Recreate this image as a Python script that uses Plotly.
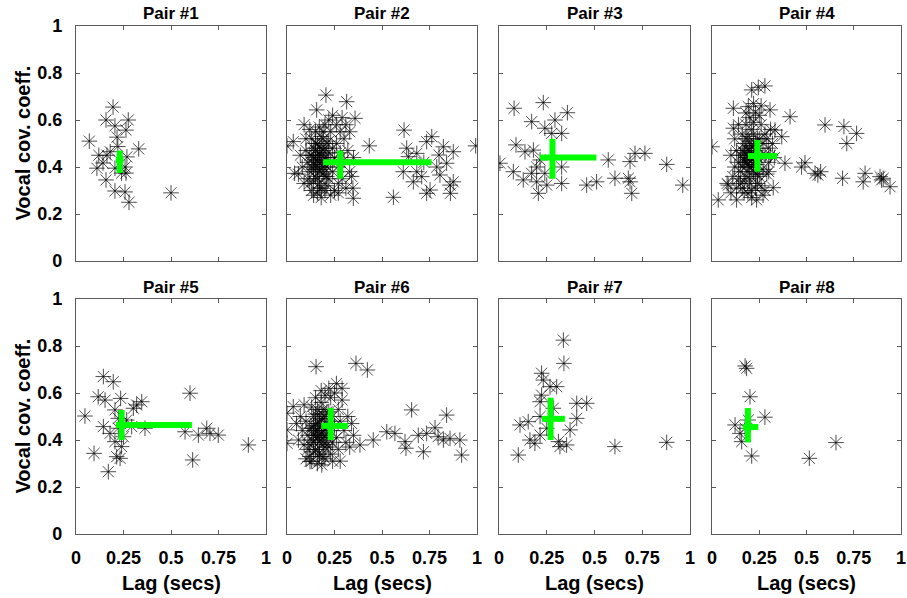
import plotly.graph_objects as go

# ---------------- data (lag in secs, vocal covariance coefficient) ----------------
lag_p1 = [0.07, 0.195, 0.158, 0.275, 0.205, 0.263, 0.216, 0.33, 0.12, 0.163, 0.268, 0.11, 0.142, 0.205,
          0.258, 0.263, 0.158, 0.205, 0.258, 0.279, 0.50, 0.18, 0.22, 0.24]
cov_p1 = [0.51, 0.655, 0.60, 0.60, 0.575, 0.557, 0.527, 0.477, 0.45, 0.45, 0.443, 0.395, 0.417, 0.395,
          0.40, 0.374, 0.345, 0.298, 0.294, 0.25, 0.29, 0.465, 0.487, 0.374]

lag_p2 = [0.12, 0.13, 0.14, 0.15, 0.15, 0.16, 0.16, 0.17, 0.17, 0.18, 0.18, 0.19, 0.19, 0.20, 0.20, 0.21, 0.21,
          0.22, 0.22, 0.23, 0.23, 0.24, 0.24, 0.25, 0.13, 0.14, 0.12, 0.11, 0.10, 0.11, 0.13, 0.16, 0.18, 0.19,
          0.17, 0.15, 0.20, 0.22, 0.14, 0.16, 0.18, 0.21, 0.15, 0.17, 0.19, 0.20, 0.12, 0.14, 0.18, 0.21,
          0.26, 0.27, 0.28, 0.28, 0.29, 0.30, 0.30, 0.31, 0.32, 0.33, 0.27, 0.25, 0.26, 0.29, 0.33, 0.24,
          0.08, 0.09, 0.07, 0.06, 0.10, 0.09, 0.12, 0.35, 0.34, 0.31, 0.23, 0.27,
          0.14, 0.15, 0.16, 0.17, 0.18, 0.19, 0.20, 0.16, 0.17, 0.18, 0.15, 0.19, 0.13, 0.14, 0.21, 0.22,
          0.17, 0.20,
          0.0, 0.033, 0.205, 0.314, 0.156, 0.358, 0.433, 0.349, 0.347, 0.04,
          0.56, 0.616, 0.762, 0.735, 0.875, 0.823, 0.80, 0.683, 0.639, 0.612, 0.683, 0.665, 0.735, 0.753,
          0.805, 0.84, 0.858, 0.875, 0.86, 0.709, 0.788, 0.993, 0.72, 0.63]
cov_p2 = [0.45, 0.40, 0.48, 0.36, 0.43, 0.50, 0.39, 0.46, 0.33, 0.42, 0.53, 0.37, 0.47, 0.44, 0.30, 0.50, 0.40,
          0.35, 0.46, 0.42, 0.55, 0.38, 0.48, 0.44, 0.52, 0.34, 0.38, 0.42, 0.47, 0.35, 0.30, 0.29, 0.31, 0.55,
          0.57, 0.55, 0.58, 0.60, 0.44, 0.45, 0.39, 0.36, 0.41, 0.49, 0.43, 0.48, 0.33, 0.28, 0.27, 0.32,
          0.50, 0.40, 0.46, 0.55, 0.35, 0.43, 0.52, 0.58, 0.47, 0.38, 0.33, 0.30, 0.58, 0.61, 0.55, 0.62,
          0.40, 0.33, 0.45, 0.37, 0.52, 0.58, 0.56, 0.44, 0.36, 0.31, 0.28, 0.29,
          0.39, 0.47, 0.35, 0.42, 0.48, 0.40, 0.36, 0.43, 0.38, 0.45, 0.50, 0.52, 0.45, 0.41, 0.44, 0.51,
          0.31, 0.41,
          0.49, 0.508, 0.706, 0.678, 0.643, 0.607, 0.49, 0.267, 0.31, 0.373,
          0.271, 0.557, 0.529, 0.508, 0.465, 0.486, 0.451, 0.458, 0.444, 0.38, 0.38, 0.337, 0.288, 0.302,
          0.366, 0.416, 0.323, 0.337, 0.288, 0.359, 0.40, 0.49, 0.42, 0.48]

lag_p3 = [0.079, 0.232, 0.358, 0.171, 0.293, 0.24, 0.328, 0.276, 0.089, 0.136, 0.18, 0.005, 0.075, 0.127,
          0.197, 0.206, 0.25, 0.328, 0.328, 0.197, 0.215, 0.459, 0.511, 0.572, 0.607, 0.677, 0.686, 0.712,
          0.764, 0.695, 0.686, 0.878, 0.962, 0.171, 0.24]
cov_p3 = [0.65, 0.674, 0.631, 0.593, 0.60, 0.565, 0.543, 0.543, 0.494, 0.465, 0.472, 0.416, 0.38, 0.345,
          0.337, 0.288, 0.323, 0.33, 0.40, 0.40, 0.43, 0.323, 0.337, 0.43, 0.352, 0.352, 0.423, 0.458,
          0.458, 0.288, 0.337, 0.411, 0.323, 0.373, 0.373]

lag_p4 = [0.15, 0.16, 0.17, 0.18, 0.18, 0.19, 0.19, 0.20, 0.20, 0.21, 0.21, 0.22, 0.22, 0.23, 0.23, 0.24, 0.24,
          0.25, 0.25, 0.26, 0.26, 0.27, 0.27, 0.28, 0.16, 0.17, 0.15, 0.14, 0.13, 0.14, 0.16, 0.19, 0.21, 0.22,
          0.20, 0.18, 0.23, 0.25, 0.17, 0.19, 0.21, 0.24, 0.18, 0.20, 0.22, 0.23, 0.15, 0.17, 0.21, 0.24,
          0.29, 0.30, 0.30, 0.31, 0.29, 0.31, 0.28, 0.32, 0.30, 0.26, 0.28, 0.12, 0.11, 0.10, 0.12, 0.13,
          0.10, 0.08, 0.26, 0.22, 0.18, 0.14, 0.27, 0.33,
          0.17, 0.18, 0.19, 0.20, 0.21, 0.22, 0.23, 0.19, 0.20, 0.21, 0.18, 0.22, 0.16, 0.17, 0.24, 0.25,
          0.20, 0.23,
          0.0, 0.033, 0.28, 0.245, 0.21, 0.192, 0.113, 0.307, 0.413, 0.113, 0.333, 0.369, 0.386, 0.324,
          0.236, 0.13, 0.086,
          0.598, 0.698, 0.765, 0.713, 0.492, 0.474, 0.545, 0.575, 0.56, 0.691, 0.81, 0.80, 0.889, 0.906,
          0.942, 0.897]
cov_p4 = [0.45, 0.40, 0.50, 0.36, 0.44, 0.53, 0.41, 0.47, 0.33, 0.43, 0.56, 0.38, 0.49, 0.45, 0.31, 0.52, 0.41,
          0.36, 0.48, 0.44, 0.58, 0.39, 0.50, 0.45, 0.54, 0.34, 0.38, 0.42, 0.47, 0.35, 0.31, 0.29, 0.30, 0.59,
          0.61, 0.58, 0.63, 0.62, 0.46, 0.47, 0.40, 0.37, 0.42, 0.51, 0.44, 0.50, 0.33, 0.29, 0.27, 0.33,
          0.52, 0.42, 0.48, 0.56, 0.37, 0.45, 0.54, 0.50, 0.38, 0.32, 0.30, 0.40, 0.36, 0.45, 0.52, 0.31,
          0.29, 0.33, 0.66, 0.67, 0.63, 0.58, 0.28, 0.44,
          0.42, 0.48, 0.38, 0.44, 0.49, 0.41, 0.37, 0.45, 0.40, 0.46, 0.52, 0.54, 0.47, 0.43, 0.44, 0.52,
          0.35, 0.47,
          0.486, 0.26, 0.745, 0.739, 0.728, 0.657, 0.65, 0.643, 0.614, 0.565, 0.557, 0.529, 0.416, 0.312,
          0.26, 0.26, 0.323,
          0.579, 0.572, 0.543, 0.50, 0.418, 0.40, 0.373, 0.38, 0.366, 0.352, 0.373, 0.337, 0.359, 0.352,
          0.316, 0.345]

lag_p5 = [0.047, 0.095, 0.144, 0.196, 0.117, 0.153, 0.144, 0.17, 0.235, 0.205, 0.223, 0.205, 0.214, 0.232,
          0.24, 0.293, 0.302, 0.319, 0.346, 0.363, 0.267, 0.179, 0.25, 0.60, 0.574, 0.614, 0.644, 0.688,
          0.705, 0.749, 0.907, 0.223]
cov_p5 = [0.502, 0.343, 0.67, 0.648, 0.584, 0.57, 0.457, 0.265, 0.577, 0.528, 0.492, 0.393, 0.329, 0.322,
          0.372, 0.457, 0.535, 0.549, 0.563, 0.45, 0.485, 0.428, 0.414, 0.599, 0.435, 0.315, 0.421, 0.45,
          0.428, 0.421, 0.379, 0.45]

lag_p6 = [0.12, 0.13, 0.14, 0.15, 0.15, 0.16, 0.16, 0.17, 0.17, 0.18, 0.18, 0.19, 0.19, 0.20, 0.20, 0.21, 0.21,
          0.22, 0.22, 0.23, 0.23, 0.24, 0.24, 0.25, 0.13, 0.14, 0.12, 0.11, 0.10, 0.11, 0.13, 0.16, 0.19, 0.20,
          0.18, 0.15, 0.22, 0.25, 0.14, 0.16, 0.18, 0.21, 0.15, 0.17, 0.19, 0.20, 0.12, 0.23, 0.26, 0.27,
          0.28, 0.29, 0.30, 0.31, 0.32, 0.27, 0.29, 0.26, 0.08, 0.07, 0.06, 0.09, 0.05, 0.10, 0.35, 0.34,
          0.33, 0.28, 0.24, 0.09,
          0.14, 0.15, 0.16, 0.17, 0.18, 0.19, 0.20, 0.16, 0.17, 0.18, 0.15, 0.19, 0.13, 0.14, 0.21, 0.22,
          0.17, 0.20,
          0.153, 0.363, 0.423, 0.0, 0.033, 0.0, 0.0, 0.454, 0.525, 0.568, 0.621, 0.626, 0.656, 0.691,
          0.718, 0.735, 0.779, 0.84, 0.823, 0.858, 0.91, 0.919, 0.795, 0.384, 0.121, 0.183]
cov_p6 = [0.45, 0.40, 0.50, 0.36, 0.44, 0.53, 0.41, 0.47, 0.34, 0.43, 0.56, 0.38, 0.49, 0.45, 0.32, 0.52, 0.41,
          0.37, 0.48, 0.44, 0.58, 0.39, 0.50, 0.46, 0.54, 0.35, 0.38, 0.42, 0.48, 0.36, 0.31, 0.30, 0.33, 0.59,
          0.61, 0.58, 0.62, 0.60, 0.46, 0.47, 0.40, 0.38, 0.42, 0.51, 0.44, 0.50, 0.33, 0.34, 0.41, 0.53,
          0.48, 0.57, 0.44, 0.39, 0.50, 0.36, 0.62, 0.64, 0.44, 0.50, 0.40, 0.55, 0.47, 0.32, 0.42, 0.47,
          0.37, 0.31, 0.31, 0.38,
          0.39, 0.47, 0.36, 0.42, 0.49, 0.41, 0.37, 0.44, 0.39, 0.46, 0.51, 0.53, 0.45, 0.42, 0.45, 0.52,
          0.33, 0.42,
          0.712, 0.726, 0.698, 0.514, 0.542, 0.443, 0.386, 0.40, 0.435, 0.428, 0.393, 0.365, 0.528, 0.42,
          0.35, 0.428, 0.452, 0.506, 0.40, 0.407, 0.40, 0.336, 0.414, 0.379, 0.308, 0.294]

lag_p7 = [0.337, 0.34, 0.223, 0.232, 0.267, 0.302, 0.215, 0.407, 0.459, 0.284, 0.215, 0.11, 0.153, 0.407,
          0.372, 0.162, 0.188, 0.215, 0.311, 0.319, 0.354, 0.101, 0.607, 0.878, 0.25, 0.223]
cov_p7 = [0.825, 0.726, 0.684, 0.655, 0.627, 0.627, 0.563, 0.556, 0.556, 0.535, 0.50, 0.464, 0.478, 0.492,
          0.443, 0.40, 0.386, 0.421, 0.393, 0.372, 0.379, 0.336, 0.372, 0.39, 0.45, 0.591]

lag_p8 = [0.175, 0.183, 0.201, 0.28, 0.122, 0.148, 0.157, 0.192, 0.21, 0.515, 0.656, 0.175]
cov_p8 = [0.715, 0.705, 0.584, 0.497, 0.464, 0.428, 0.393, 0.485, 0.332, 0.322, 0.389, 0.45]

# green summary crosses: centre, horizontal extent, vertical extent
cross_lag = [0.23, 0.28, 0.28, 0.24, 0.24, 0.23, 0.27, 0.19]
cross_cov = [0.43, 0.42, 0.44, 0.447, 0.464, 0.46, 0.49, 0.455]
cross_lag_lo = [0.21, 0.19, 0.215, 0.19, 0.21, 0.18, 0.225, 0.164]
cross_lag_hi = [0.25, 0.76, 0.51, 0.345, 0.61, 0.32, 0.345, 0.245]
cross_cov_lo = [0.375, 0.35, 0.35, 0.38, 0.40, 0.40, 0.40, 0.39]
cross_cov_hi = [0.47, 0.47, 0.52, 0.515, 0.528, 0.536, 0.58, 0.536]

titles = ["Pair #1", "Pair #2", "Pair #3", "Pair #4", "Pair #5", "Pair #6", "Pair #7", "Pair #8"]
x_ticks = [0, 0.25, 0.5, 0.75, 1]
x_tick_text = ["0", "0.25", "0.5", "0.75", "1"]
y_ticks = [0, 0.2, 0.4, 0.6, 0.8, 1]
y_tick_text = ["0", "0.2", "0.4", "0.6", "0.8", "1"]

lags = [lag_p1, lag_p2, lag_p3, lag_p4, lag_p5, lag_p6, lag_p7, lag_p8]
covs = [cov_p1, cov_p2, cov_p3, cov_p4, cov_p5, cov_p6, cov_p7, cov_p8]

# ---------------- layout ----------------
W, H = 907, 598
col_px = [(76, 266), (287, 477), (499, 690), (712, 901)]
row_px = [(26, 261), (299, 534)]
title_px = [14, 287]
FONT = "Liberation Sans, Arial, sans-serif"
AX_COLOR = "#5a5a5a"

fig = go.Figure()
layout = dict(width=W, height=H, autosize=False, margin=dict(l=0, r=0, t=0, b=0, autoexpand=False),
              paper_bgcolor="white", plot_bgcolor="white", showlegend=False,
              font=dict(family=FONT, color="black"))
annotations = []

for i in range(8):
    r, c = divmod(i, 4)
    n = i + 1
    xa = "x" if n == 1 else f"x{n}"
    ya = "y" if n == 1 else f"y{n}"
    x0, x1 = col_px[c]
    y0, y1 = row_px[r]
    layout["xaxis" if n == 1 else f"xaxis{n}"] = dict(
        domain=[x0 / W, x1 / W], range=[0, 1], anchor=ya, automargin=False,
        tickvals=x_ticks, ticktext=x_tick_text, showticklabels=(r == 1),
        ticks="inside", ticklen=4, tickcolor=AX_COLOR, mirror="allticks",
        showline=True, linecolor=AX_COLOR, linewidth=1.2, showgrid=False, zeroline=False,
        tickfont=dict(family=FONT, size=18, color="black", weight="bold"),
        ticklabelstandoff=7,
    )
    layout["yaxis" if n == 1 else f"yaxis{n}"] = dict(
        domain=[1 - y1 / H, 1 - y0 / H], range=[0, 1], anchor=xa, automargin=False,
        tickvals=y_ticks, ticktext=y_tick_text, showticklabels=(c == 0),
        ticks="inside", ticklen=4, tickcolor=AX_COLOR, mirror="allticks",
        showline=True, linecolor=AX_COLOR, linewidth=1.2, showgrid=False, zeroline=False,
        tickfont=dict(family=FONT, size=18, color="black", weight="bold"),
        ticklabelstandoff=9,
    )
    fig.add_trace(go.Scatter(
        x=lags[i], y=covs[i], mode="markers", xaxis=xa, yaxis=ya,
        marker=dict(symbol="asterisk-open", size=13,
                    line=dict(width=1, color="rgba(0,0,0,0.7)"), color="rgba(0,0,0,0.7)"),
        hoverinfo="skip"))
    fig.add_trace(go.Scatter(
        x=[cross_lag_lo[i], cross_lag_hi[i], None, cross_lag[i], cross_lag[i]],
        y=[cross_cov[i], cross_cov[i], None, cross_cov_lo[i], cross_cov_hi[i]],
        mode="lines", xaxis=xa, yaxis=ya, line=dict(color="#00ff00", width=6),
        hoverinfo="skip"))
    annotations.append(dict(
        text=f"<b>{titles[i]}</b>", x=(x0 + x1) / 2 / W, y=1 - title_px[r] / H,
        xref="paper", yref="paper", xanchor="center", yanchor="middle", showarrow=False,
        font=dict(family=FONT, size=17, color="black")))

for r in range(2):
    y0, y1 = row_px[r]
    annotations.append(dict(
        text="<b>Vocal cov. coeff.</b>", x=22 / W, y=1 - (y0 + y1) / 2 / H,
        xref="paper", yref="paper", xanchor="center", yanchor="middle", textangle=-90,
        showarrow=False, font=dict(family=FONT, size=20, color="black")))
for c in range(4):
    x0, x1 = col_px[c]
    annotations.append(dict(
        text="<b>Lag (secs)</b>", x=(x0 + x1) / 2 / W, y=1 - 583 / H,
        xref="paper", yref="paper", xanchor="center", yanchor="middle",
        showarrow=False, font=dict(family=FONT, size=20, color="black")))

layout["annotations"] = annotations
fig.update_layout(**layout)
fig.write_html("out.html")
